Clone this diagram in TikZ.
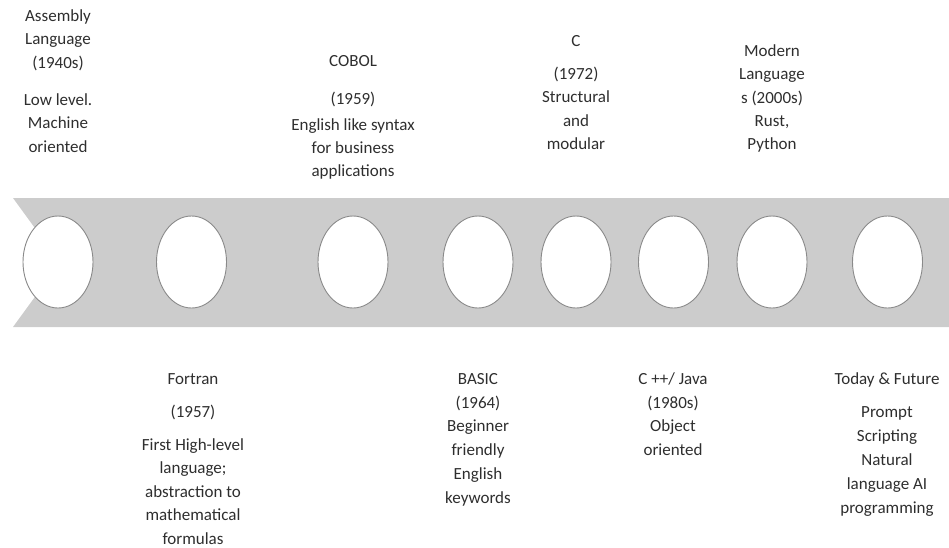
\documentclass[tikz,border=0pt]{standalone}
\usepackage{fontspec}
\setmainfont{Carlito}
\usetikzlibrary{shapes.geometric}
\begin{document}
\begin{tikzpicture}[x=1pt,y=-1pt,
  hole/.style={ellipse,fill=white,draw=rimgray,line width=0.9pt,minimum width=70pt,minimum height=92pt,inner sep=0pt},
  label/.style={anchor=base,inner sep=0pt,text=inkgray,font=\fontsize{17}{20}\selectfont}]
\definecolor{bandgray}{HTML}{CCCCCC}
\definecolor{rimgray}{HTML}{8A8A8A}
\definecolor{inkgray}{HTML}{2E2E2E}
\useasboundingbox (0,0) rectangle (949,548);

% stacked centred lines: name, x, first baseline, line step, lines
\newcommand\lines[5]{%
  \foreach \t [count=\i] in {#5}
    \node[label] (#1-\i) at (#2,{#3+(\i-1)*#4}) {\t};}

% timeline band with a notched tail
\fill[bandgray] (13,198) -- (949,198) -- (949,327) -- (13,327) -- (60,262.5) -- cycle;

% milestones
\foreach \n/\x in {asm/58,fortran/191.5,cobol/353,basic/478,c/576,cpp/673.5,modern/772,today/887.5}
  \node[hole] (h-\n) at (\x,262) {};

% labels above the band
\lines{tasm}{58}{21.5}{23.5}{Assembly,Language,(1940s)}
\lines{dasm}{58}{105.5}{23.3}{Low level.,Machine,oriented}
\lines{tcobol}{353}{66.5}{23}{COBOL}
\lines{ycobol}{353}{104.5}{23}{(1959)}
\lines{dcobol}{353}{130.5}{23}{English like syntax,for business,applications}
\lines{tc}{576}{46.5}{23}{C}
\lines{dc}{576}{79.5}{23.4}{(1972),Structural,and,modular}
\lines{tmodern}{772}{56.5}{23.3}{Modern,Language,s (2000s),{Rust,},Python}

% labels below the band
\lines{tfortran}{193}{384.5}{23}{Fortran}
\lines{yfortran}{193}{417.5}{23}{(1957)}
\lines{dfortran}{193}{450.5}{23.4}{First High-level,language;,abstraction to,mathematical,formulas}
\lines{tbasic}{478}{384.5}{23.7}{BASIC,(1964),Beginner,friendly,English,keywords}
\lines{tcpp}{673}{384.5}{23.5}{C ++/ Java,(1980s),Object,oriented}
\lines{ttoday}{887}{384.5}{23}{Today \& Future}
\lines{dtoday}{887}{417.5}{24}{Prompt,Scripting,Natural,language AI,programming}
\end{tikzpicture}
\end{document}
